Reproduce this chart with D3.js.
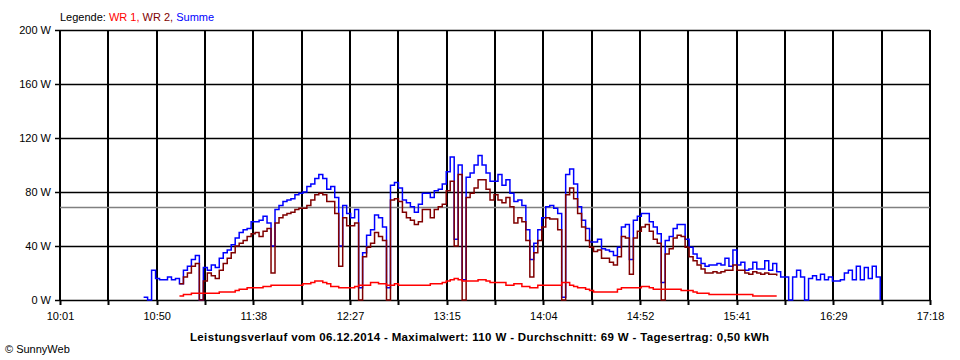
<!DOCTYPE html>
<html><head><meta charset="utf-8">
<script src="https://cdn.jsdelivr.net/npm/d3@7"></script>
<style>
body{margin:0;background:#fff}
svg{display:block;font-family:"Liberation Sans",Arial,sans-serif}
</style>
</head><body><svg id="c" width="960" height="360"></svg>
<script>
// ---------- data ----------
const axisStart = "10:01";
const axisEnd = "17:18";
const xTickLabels = ["10:01","10:50","11:38","12:27","13:15","14:04","14:52","15:41","16:29","17:18"];
const yTickValues = [0,40,80,120,160,200];
const stepMinutes = 2;
const averageW = 69;

// Summe (blue), starts 10:43, one value every 2 minutes
const sumStart = "10:43";
const sumValues = [2,0,22,16,15,15,17,15,16,12,
  22,25,30,33,0,24,22,26,24,31,
  35,37,41,46,50,52,53,58,58,59,
  62,57,40,67,70,73,74,75,78,79,
  80,84,86,90,93,90,82,84,76,40,
  70,64,61,67,9,35,48,52,63,61,
  54,9,85,87,83,74,72,69,65,71,
  79,79,76,81,82,86,95,106,45,100,
  15,91,94,100,107,100,94,88,88,93,
  85,89,79,73,74,70,52,30,42,52,
  61,69,70,68,64,2,93,97,86,69,
  59,53,43,43,45,38,37,36,33,39,
  54,56,30,59,62,64,64,58,54,49,
  13,44,47,53,56,56,45,39,34,31,
  27,25,26,26,27,26,31,25,37,26,
  28,22,23,28,23,23,29,22,27,21,
  17,17,0,17,22,17,0,16,18,15,
  19,15,17,14,14,15,20,22,15,25,
  15,24,16,25,17,0];

// WR 1 (red), starts 11:01
const wr1Start = "11:01";
const wr1Values = [3,4,4,5,5,5,5,5,5,5,
  6,6,6,6,7,8,8,9,9,9,
  9,10,10,11,11,11,11,11,11,11,
  11,12,12,13,14,14,13,12,10,10,
  9,9,9,9,10,11,11,11,13,13,
  12,12,11,11,12,11,11,11,11,11,
  11,11,11,12,12,12,13,14,15,16,
  15,14,14,14,14,15,15,14,13,13,
  13,13,11,11,12,12,10,10,9,9,
  11,11,11,11,11,11,13,13,11,10,
  9,9,8,7,6,6,6,6,6,6,
  8,9,9,9,9,9,10,10,9,8,
  8,8,8,8,8,8,7,7,7,6,
  5,5,5,4,4,4,4,4,4,4,
  4,4,4,4,3,3,3,3,3,3,3];

// WR 2 (dark red), starts 11:01
const wr2Start = "11:01";
const wr2Values = [12,17,20,25,27,0,14,20,18,16,
  22,27,31,35,40,42,44,47,49,50,
  47,51,53,20,57,61,63,64,65,67,
  68,68,70,74,78,79,78,73,73,64,
  25,61,55,55,57,0,32,39,42,50,
  47,44,0,74,75,73,65,61,59,56,
  58,67,67,61,67,69,71,81,88,40,
  93,0,76,79,83,89,89,82,74,78,
  74,72,76,69,57,61,58,44,17,35,
  44,54,61,60,60,52,0,78,83,75,
  64,54,44,39,36,37,31,31,28,26,
  32,47,46,19,46,51,54,56,51,45,
  42,0,34,38,46,48,47,39,32,29,
  26,23,20,20,21,20,21,22,22,26,
  22,22,20,19,21,20,19,20,19,19,18];

const legendItems = [
  {text:"Legende: ", color:"#000000"},
  {text:"WR 1, ", color:"#ff0000"},
  {text:"WR 2, ", color:"#800000"},
  {text:"Summe", color:"#0000ff"}
];
const titleText = "Leistungsverlauf vom 06.12.2014 - Maximalwert: 110 W - Durchschnitt: 69 W - Tagesertrag: 0,50 kWh";
const copyrightText = "\u00A9 SunnyWeb";

// ---------- drawing ----------
const toMin = s => { const [h,m] = s.split(":").map(Number); return h*60+m; };
const svg = d3.select("#c");
const L = 60, R = 930, T = 30, B = 300;
const t0 = toMin(axisStart), t1 = toMin(axisEnd);
const x = d3.scaleLinear().domain([t0, t1]).range([L, R]);
const y = d3.scaleLinear().domain([0, 200]).range([B, T]);

const nGrid = (xTickLabels.length - 1) * 2;
const gridTimes = d3.range(nGrid + 1).map(k => t0 + k * (t1 - t0) / nGrid);

// horizontal grid
svg.append("g").selectAll("line").data(yTickValues).join("line")
  .attr("x1", L).attr("x2", R)
  .attr("y1", d => Math.round(y(d)) + 0.5).attr("y2", d => Math.round(y(d)) + 0.5)
  .attr("stroke", "#000").attr("stroke-width", 1.5);
// vertical grid
svg.append("g").selectAll("line").data(gridTimes).join("line")
  .attr("x1", d => Math.round(x(d))).attr("x2", d => Math.round(x(d)))
  .attr("y1", T).attr("y2", B)
  .attr("stroke", "#000").attr("stroke-width", 2);

// axes
const xAxis = d3.axisBottom(x).tickValues(gridTimes).tickSize(5).tickPadding(7)
  .tickFormat((d, i) => i % 2 === 0 ? xTickLabels[i / 2] : "");
const gx = svg.append("g").attr("transform", `translate(0,${B})`).call(xAxis);
gx.select(".domain").remove();
gx.selectAll(".tick line").attr("stroke", "#000").attr("stroke-width", 2)
  .attr("transform", function(d){ return `translate(${Math.round(x(d)) - x(d)},0)`; });
gx.selectAll("text").attr("font-size", 11).attr("fill", "#000")
  .attr("font-family", '"Liberation Sans",Arial,sans-serif');

const yAxis = d3.axisLeft(y).tickValues(yTickValues).tickSize(5).tickPadding(4)
  .tickFormat(d => d + " W");
const gy = svg.append("g").attr("transform", `translate(${L},0)`).call(yAxis);
gy.select(".domain").remove();
gy.selectAll(".tick line").attr("stroke", "#000").attr("stroke-width", 1.5);
gy.selectAll("text").attr("font-size", 11).attr("fill", "#000")
  .attr("font-family", '"Liberation Sans",Arial,sans-serif');

// average line
svg.append("line").attr("x1", L).attr("x2", R)
  .attr("y1", Math.round(y(averageW)) + 0.5).attr("y2", Math.round(y(averageW)) + 0.5)
  .attr("stroke", "#808080").attr("stroke-width", 1.5);

// series
function series(start, values) {
  const s = toMin(start);
  return values.map((v, i) => ({t: s + i * stepMinutes, v}));
}
const line = d3.line().defined(d => d.v != null)
  .x(d => x(d.t)).y(d => y(d.v)).curve(d3.curveStepAfter);
const seriesDefs = [
  {data: series(sumStart, sumValues), color: "#0000ff"},
  {data: series(wr2Start, wr2Values), color: "#800000"},
  {data: series(wr1Start, wr1Values), color: "#ff0000"}
];
svg.append("g").selectAll("path").data(seriesDefs).join("path")
  .attr("d", d => line(d.data)).attr("fill", "none")
  .attr("stroke", d => d.color).attr("stroke-width", 1.5)
  .attr("stroke-linejoin", "miter");

// legend
const leg = svg.append("text").attr("x", L).attr("y", 21).attr("font-size", 11)
  .attr("style", "white-space:pre");
leg.selectAll("tspan").data(legendItems).join("tspan")
  .attr("fill", d => d.color).text(d => d.text);

// title
svg.append("text").attr("x", 190).attr("y", 341)
  .attr("font-size", 11.5).attr("font-weight", "bold")
  .attr("textLength", 579).attr("lengthAdjust", "spacing").text(titleText);
// copyright
svg.append("text").attr("x", 5).attr("y", 353).attr("font-size", 11).text(copyrightText);
</script>
</body></html>
